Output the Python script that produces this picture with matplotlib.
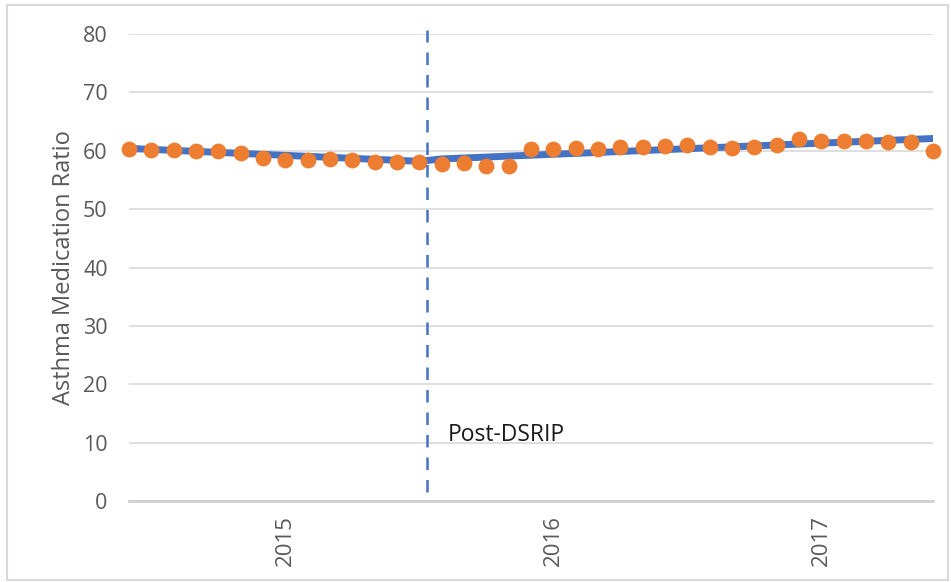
import matplotlib.pyplot as plt
from matplotlib.patches import Rectangle

# monthly asthma medication ratio (observed) and fitted segmented trend
observed = [60.3, 60.1, 60.1, 60.0, 60.0, 59.7, 58.8, 58.5, 58.5, 58.6,
            58.4, 58.0, 58.0, 58.0, 57.7, 57.9, 57.4, 57.4, 60.3, 60.3,
            60.5, 60.3, 60.7, 60.7, 60.8, 61.0, 60.7, 60.5, 60.7, 61.0,
            62.0, 61.6, 61.7, 61.7, 61.5, 61.5, 60.0]
fitted = [60.4, 60.23, 60.06, 59.89, 59.72, 59.55, 59.38, 59.21, 59.04, 58.87,
          58.70, 58.53, 58.36, 58.19, 58.6, 58.76, 58.92, 59.08, 59.24, 59.40,
          59.55, 59.71, 59.87, 60.03, 60.19, 60.35, 60.51, 60.67, 60.83, 60.99,
          61.15, 61.31, 61.46, 61.62, 61.78, 61.94, 62.10]
months = list(range(len(observed)))
year_pos = [7, 19, 31]
year_labels = ['2015', '2016', '2017']
dsrip_start = 13.33

plt.rcParams['font.family'] = ['Open Sans', 'DejaVu Sans']

W, H = 951, 582
fig = plt.figure(figsize=(W / 100, H / 100), dpi=100)
ax = fig.add_axes([128.5 / W, 1 - 501 / H, (933.5 - 128.5) / W, (501 - 34) / H])

# outer chart border
fig.patches.append(Rectangle((7 / W, 2 / H), 941 / W, (577 - 2) / H, transform=fig.transFigure,
                             fill=False, edgecolor='#d9d9d9', linewidth=1.5))

ax.plot(months, fitted, color='#4472c4', linewidth=5, solid_capstyle='butt', zorder=3)
ax.scatter(months, observed, s=130, color='#ed7d31', zorder=4, clip_on=False, linewidths=0)

ax.plot([dsrip_start, dsrip_start], [1.5, 80.7], color='#4472c4', linewidth=1.8,
        dashes=(5, 4), clip_on=False, zorder=5)
ax.text(dsrip_start + 0.93, 10.3, 'Post-DSRIP', fontsize=16.5, color='#1a1a1a')

ax.set_xlim(-0.02, 36.02)
ax.set_ylim(0, 80)
ax.set_yticks(range(0, 81, 10))
ax.set_xticks(year_pos)
ax.set_xticklabels(year_labels, rotation=90)
ax.grid(axis='y', color='#d9d9d9', linewidth=1.2)
ax.set_axisbelow(True)
for s in ['top', 'right', 'left']:
    ax.spines[s].set_visible(False)
ax.spines['bottom'].set_color('#d0d0d0')
ax.spines['bottom'].set_linewidth(2)
ax.tick_params(axis='both', length=0, labelcolor='#595959')
ax.tick_params(axis='y', pad=15, labelsize=15.5)
ax.tick_params(axis='x', pad=10, labelsize=16)
ax.set_ylabel('Asthma Medication Ratio', fontsize=17, color='#595959', labelpad=5)

fig.savefig('out.png', dpi=100)
